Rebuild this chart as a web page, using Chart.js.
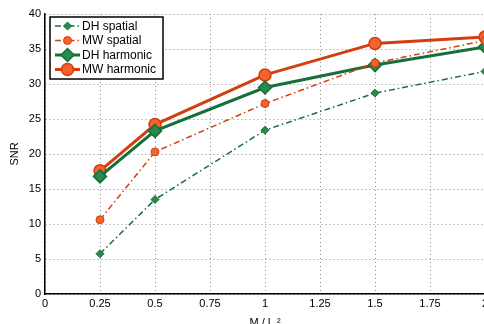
<!DOCTYPE html>
<html lang="en">
  <head>
    <meta charset="utf-8" />
    <title>SNR vs M / L^2</title>
    <script src="https://cdn.jsdelivr.net/npm/chart.js"></script>
    <style>
      html, body { margin: 0; padding: 0; background: #fff; overflow: hidden; }
      #wrap { position: absolute; left: 0; top: 0; width: 500px; height: 330px; }
    </style>
  </head>
  <body>
    <div id="wrap"><canvas id="snr"></canvas></div>
    <script>
      // values
      var xVals = [0.25, 0.5, 1, 1.5, 2];
      var dhSpatial = [5.75, 13.5, 23.4, 28.7, 31.8];
      var mwSpatial = [10.6, 20.3, 27.2, 33.0, 36.2];
      var dhHarmonic = [16.8, 23.3, 29.5, 32.7, 35.3];
      var mwHarmonic = [17.6, 24.2, 31.3, 35.8, 36.7];
      var xTicks = [0, 0.25, 0.5, 0.75, 1, 1.25, 1.5, 1.75, 2];
      var yTicks = [0, 5, 10, 15, 20, 25, 30, 35, 40];

      var green = "#147038", greenFill = "#2a8a4e";
      var red = "#d33e0e", redFill = "#f4622f";
      var font = "'Liberation Sans', Arial, sans-serif";

      function pts(ys) {
        return xVals.map(function (x, i) { return { x: x, y: ys[i] }; });
      }

      var sets = [
        { label: "DH spatial", data: pts(dhSpatial), borderColor: green, backgroundColor: greenFill,
          pointBorderColor: green, borderWidth: 1.5, borderDash: [6, 3, 1.5, 3],
          pointStyle: "rectRot", pointRadius: 4, pointBorderWidth: 1 },
        { label: "MW spatial", data: pts(mwSpatial), borderColor: red, backgroundColor: redFill,
          pointBorderColor: red, borderWidth: 1.5, borderDash: [6, 3, 1.5, 3],
          pointStyle: "circle", pointRadius: 4, pointBorderWidth: 1 },
        { label: "DH harmonic", data: pts(dhHarmonic), borderColor: green, backgroundColor: greenFill,
          pointBorderColor: green, borderWidth: 3,
          pointStyle: "rectRot", pointRadius: 6.5, pointBorderWidth: 1.5 },
        { label: "MW harmonic", data: pts(mwHarmonic), borderColor: red, backgroundColor: redFill,
          pointBorderColor: red, borderWidth: 3,
          pointStyle: "circle", pointRadius: 6, pointBorderWidth: 1.5 }
      ];

      // matlab-ish legend box in the top left corner
      var legendBox = {
        id: "legendBox",
        afterDraw: function (chart) {
          var ctx = chart.ctx, a = chart.chartArea;
          var x0 = a.left + 5, y0 = a.top + 3, w = 113, h = 62, rowH = 14.5;
          ctx.save();
          ctx.fillStyle = "#fff";
          ctx.fillRect(x0, y0, w, h);
          ctx.strokeStyle = "#000";
          ctx.lineWidth = 1.5;
          ctx.strokeRect(x0, y0, w, h);
          ctx.font = "12px " + font;
          ctx.textBaseline = "middle";
          sets.forEach(function (s, i) {
            var cy = y0 + 9 + i * rowH;
            ctx.strokeStyle = s.borderColor;
            ctx.lineWidth = s.borderWidth;
            ctx.setLineDash(s.borderDash || []);
            ctx.beginPath();
            ctx.moveTo(x0 + 5, cy);
            ctx.lineTo(x0 + 30, cy);
            ctx.stroke();
            ctx.setLineDash([]);
            ctx.fillStyle = s.backgroundColor;
            ctx.strokeStyle = s.pointBorderColor;
            ctx.lineWidth = s.pointBorderWidth;
            Chart.helpers.drawPoint(ctx, { pointStyle: s.pointStyle, radius: s.pointRadius, borderWidth: s.pointBorderWidth }, x0 + 17.5, cy);
            ctx.fillStyle = "#000";
            ctx.fillText(s.label, x0 + 32, cy + 0.5);
          });
          ctx.restore();
        }
      };

      new Chart(document.getElementById("snr"), {
        type: "line",
        data: { datasets: sets },
        plugins: [legendBox],
        options: {
          responsive: true,
          maintainAspectRatio: false,
          animation: false,
          layout: { padding: { top: 14, right: 15, left: 8, bottom: 0 } },
          plugins: { legend: { display: false }, tooltip: { enabled: false } },
          scales: {
            x: {
              type: "linear",
              min: 0,
              max: 2,
              afterFit: function (s) { s.height = 36; },
              afterBuildTicks: function (s) {
                s.ticks = xTicks.map(function (v) { return { value: v }; });
              },
              ticks: {
                color: "#000",
                padding: 3,
                maxRotation: 0,
                autoSkip: false,
                font: { family: font, size: 11 },
                callback: function (v) { return String(v); }
              },
              grid: { color: "#8c8c8c", lineWidth: 1, drawTicks: false },
              border: { color: "#000", width: 1.5, dash: [1, 3] },
              title: {
                display: true,
                text: "M / L \u00b2",
                color: "#000",
                padding: { top: 1, bottom: 0 },
                font: { family: font, size: 11 }
              }
            },
            y: {
              min: 0,
              max: 40,
              afterFit: function (s) { s.width = 37; },
              afterBuildTicks: function (s) {
                s.ticks = yTicks.map(function (v) { return { value: v }; });
              },
              ticks: {
                color: "#000",
                padding: 4,
                font: { family: font, size: 11 }
              },
              grid: { color: "#8c8c8c", lineWidth: 1, drawTicks: false },
              border: { color: "#000", width: 1.5, dash: [1, 3] },
              title: {
                display: true,
                text: "SNR",
                color: "#000",
                padding: { top: 0, bottom: 4 },
                font: { family: font, size: 11 }
              }
            }
          }
        }
      });
    </script>
  </body>
</html>
